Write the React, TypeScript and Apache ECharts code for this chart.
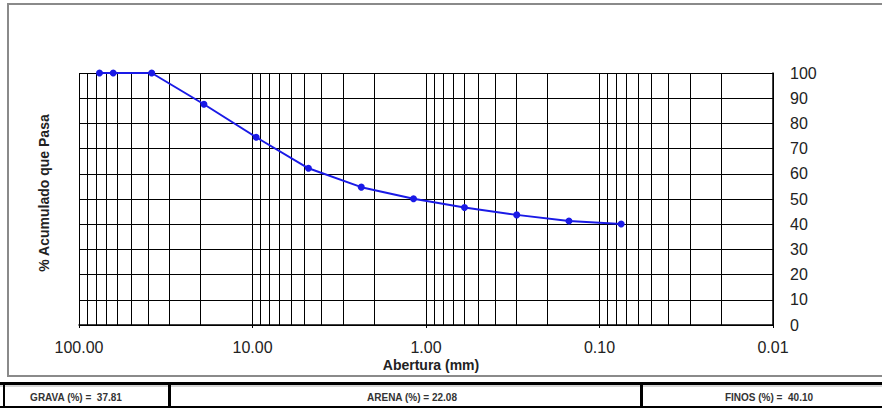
import React, { useEffect, useRef } from "react";
import * as echarts from "echarts";

// Sieve openings (mm) and cumulative percent passing
const sieveSizes = [76.2, 63.5, 38.1, 19.05, 9.525, 4.76, 2.36, 1.18, 0.6, 0.3, 0.15, 0.075];
const percentPassing = [100, 100, 100, 87.6, 74.5, 62.19, 54.7, 50.1, 46.6, 43.7, 41.3, 40.1];

// Axis settings
const xMin = 0.01;
const xMax = 100;
const yTicks = [0, 10, 20, 30, 40, 50, 60, 70, 80, 90, 100];
const decades = [0.01, 0.1, 1, 10];
const minorMultipliers = [2, 3, 4, 5, 6, 7, 8, 9];

// Summary table
const summaryLabels = ["GRAVA (%) =  37.81", "ARENA (%) = 22.08", "FINOS (%) =  40.10"];

const FONT = "'Liberation Sans', Arial, sans-serif";

export default function App() {
  const ref = useRef<HTMLDivElement>(null);

  useEffect(() => {
    if (!ref.current) return;
    const chart = echarts.init(ref.current, null, { renderer: "svg" });

    const minorLines: { xAxis: number }[] = [];
    decades.forEach((d) => minorMultipliers.forEach((m) => minorLines.push({ xAxis: +(d * m).toPrecision(3) })));

    const data = sieveSizes.map((s, i) => [s, percentPassing[i]]);

    chart.setOption({
      animation: false,
      backgroundColor: "#ffffff",
      textStyle: { fontFamily: FONT },
      grid: { left: 79, right: 109, top: 73, bottom: 84, containLabel: false },
      xAxis: {
        type: "log",
        logBase: 10,
        min: xMin,
        max: xMax,
        inverse: true,
        axisLine: { show: true, lineStyle: { color: "#000", width: 1.5 } },
        axisTick: { show: true, length: 3, lineStyle: { color: "#000" } },
        axisLabel: {
          margin: 14,
          fontSize: 16,
          color: "#222",
          fontFamily: FONT,
          formatter: (v: number) => v.toFixed(2),
        },
        splitLine: { show: true, lineStyle: { color: "#000", width: 1 } },
      },
      yAxis: {
        type: "value",
        position: "right",
        min: yTicks[0],
        max: yTicks[yTicks.length - 1],
        interval: 10,
        axisLine: { show: true, lineStyle: { color: "#000", width: 1.5 } },
        axisTick: { show: false },
        axisLabel: { margin: 17, fontSize: 16, color: "#222", fontFamily: FONT },
        splitLine: { show: true, lineStyle: { color: "#000", width: 1 } },
      },
      series: [
        {
          type: "line",
          data,
          symbol: "circle",
          symbolSize: 7,
          lineStyle: { color: "#1a1ae6", width: 2 },
          itemStyle: { color: "#1a1ae6" },
          z: 5,
          markLine: {
            silent: true,
            symbol: "none",
            label: { show: false },
            lineStyle: { color: "#000", width: 1, type: "solid" },
            data: minorLines,
            z: 1,
          },
        },
      ],
      graphic: [
        // outer frame
        {
          type: "rect",
          shape: { x: 8, y: 4, width: 900, height: 372 },
          style: { fill: "none", stroke: "#8a8a8a", lineWidth: 2 },
          silent: true,
        },
        // y axis title
        {
          type: "text",
          x: 44,
          y: 193,
          rotation: Math.PI / 2,
          style: {
            text: "% Acumulado que Pasa",
            font: `bold 14px ${FONT}`,
            fill: "#222",
            align: "center",
            verticalAlign: "middle",
          },
        },
        // x axis title
        {
          type: "text",
          x: 431,
          y: 365,
          style: {
            text: "Abertura (mm)",
            font: `bold 14px ${FONT}`,
            fill: "#222",
            align: "center",
            verticalAlign: "middle",
          },
        },
        // summary table
        {
          type: "rect",
          shape: { x: 0, y: 382, width: 900, height: 3 },
          style: { fill: "#000" },
        },
        {
          type: "line",
          shape: { x1: 0, y1: 386, x2: 900, y2: 386 },
          style: { stroke: "#aaa", lineWidth: 1 },
        },
        {
          type: "line",
          shape: { x1: 0, y1: 407, x2: 900, y2: 407 },
          style: { stroke: "#000", lineWidth: 2 },
        },
        {
          type: "rect",
          shape: { x: 3, y: 383, width: 2, height: 25 },
          style: { fill: "#000" },
        },
        {
          type: "rect",
          shape: { x: 168, y: 383, width: 3, height: 25 },
          style: { fill: "#000" },
        },
        {
          type: "rect",
          shape: { x: 640, y: 383, width: 3, height: 25 },
          style: { fill: "#000" },
        },
        {
          type: "text",
          x: 76,
          y: 397,
          style: {
            text: summaryLabels[0],
            font: `bold 10px ${FONT}`,
            fill: "#333",
            align: "center",
            verticalAlign: "middle",
          },
        },
        {
          type: "text",
          x: 412,
          y: 397,
          style: {
            text: summaryLabels[1],
            font: `bold 10px ${FONT}`,
            fill: "#333",
            align: "center",
            verticalAlign: "middle",
          },
        },
        {
          type: "text",
          x: 769,
          y: 397,
          style: {
            text: summaryLabels[2],
            font: `bold 10px ${FONT}`,
            fill: "#333",
            align: "center",
            verticalAlign: "middle",
          },
        },
      ],
    });

    return () => chart.dispose();
  }, []);

  return (
    <div
      ref={ref}
      style={{ position: "absolute", left: 0, top: 0, width: 882, height: 409, background: "#fff" }}
    />
  );
}
